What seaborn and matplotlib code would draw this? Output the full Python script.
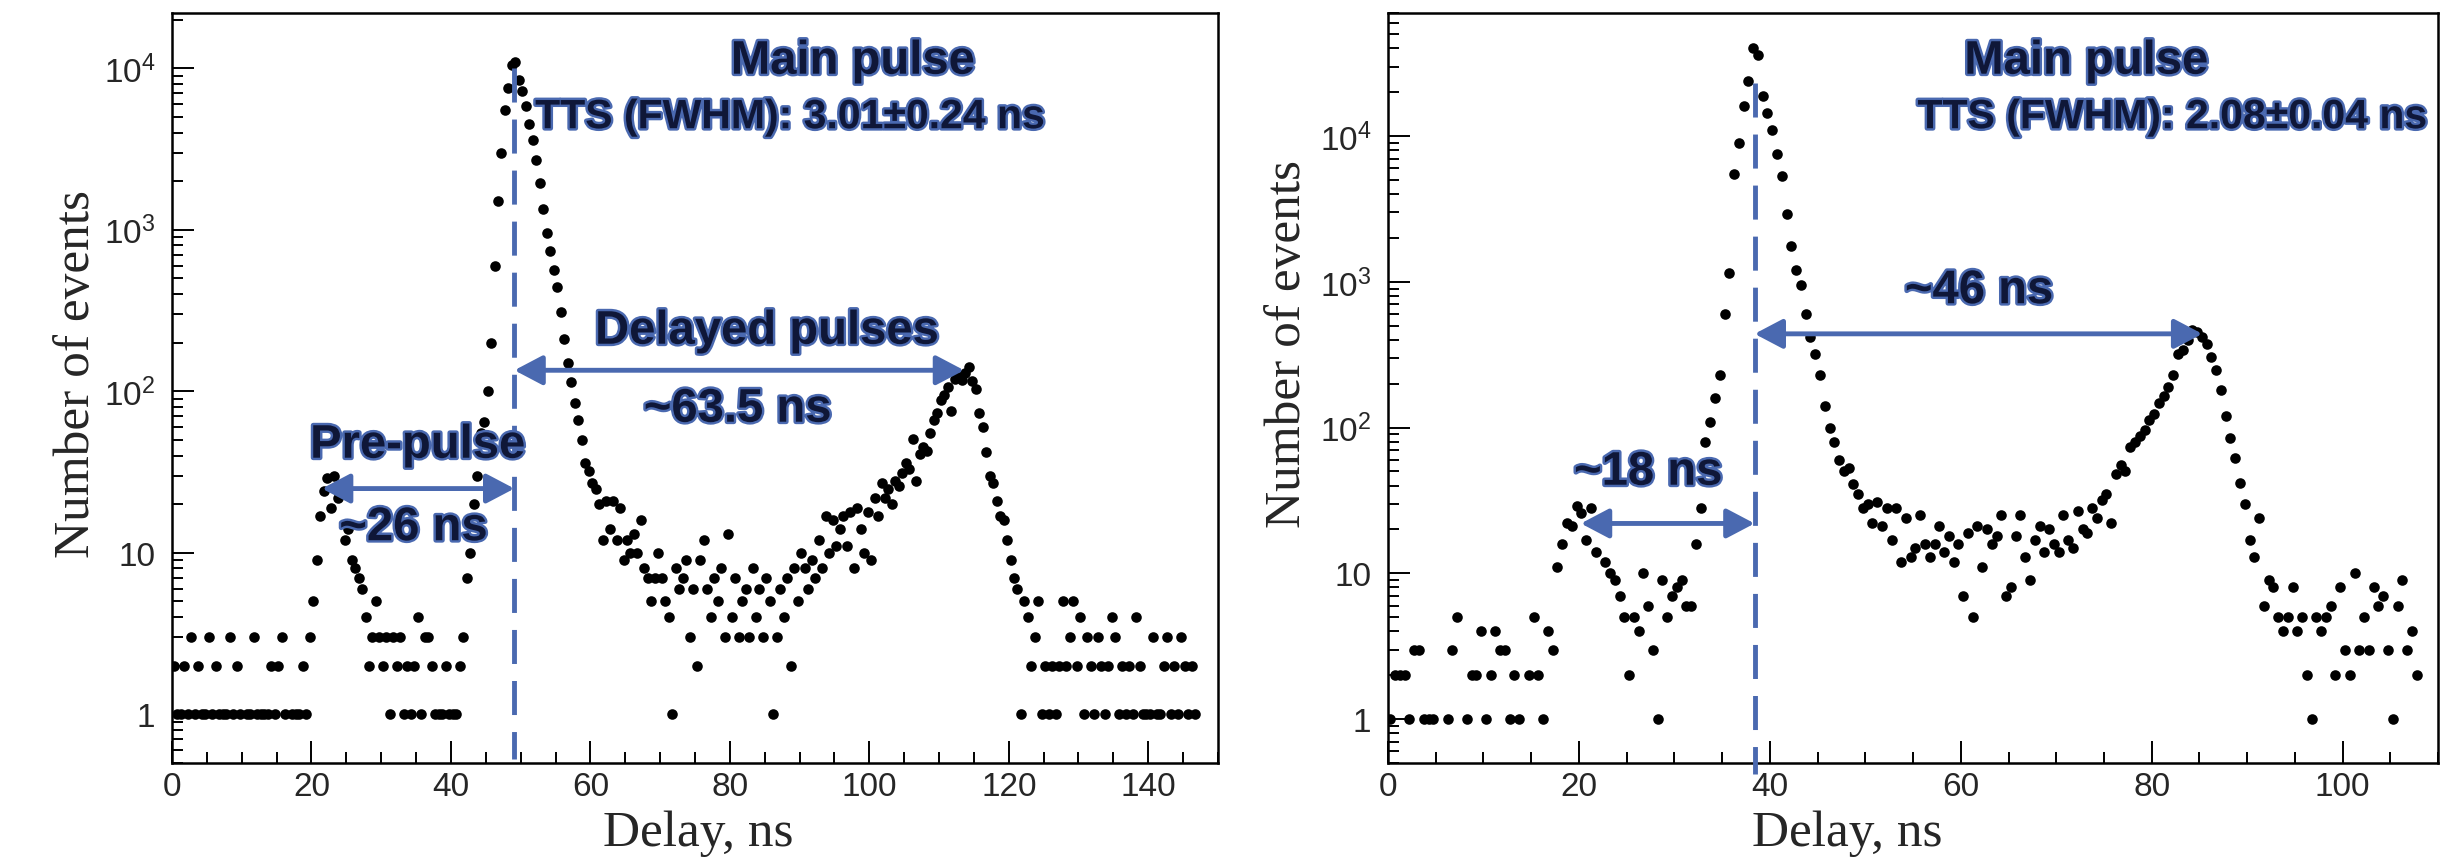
import matplotlib

matplotlib.use("Agg")
import matplotlib.patheffects as pe
import matplotlib.pyplot as plt
import numpy as np
import pandas as pd
import seaborn as sns
from matplotlib.ticker import FixedFormatter, FixedLocator, LogLocator, MultipleLocator, NullFormatter

# histogram contents, 0.5 ns per bin, starting at 0 ns
LEFT_BIN_NS = 0.5
LEFT_COUNTS = [
	2, 1, 1, 2, 1, 3, 1, 2, 1, 1,
	3, 1, 2, 1, 1, 1, 3, 1, 2, 1,
	0, 1, 1, 3, 1, 1, 1, 1, 2, 1,
	2, 3, 1, 0, 1, 1, 1, 2, 1, 3,
	5, 9, 17, 24, 29, 19, 30, 22, 24, 12,
	14, 9, 8, 7, 6, 4, 2, 3, 5, 3,
	2, 3, 1, 3, 2, 3, 1, 2, 1, 2,
	4, 1, 3, 3, 2, 1, 1, 1, 2, 1,
	1, 1, 2, 3, 7, 10, 20, 30, 55, 65,
	100, 200, 600, 1500, 3000, 5500, 7500, 10500, 11000, 8500,
	7200, 5800, 4500, 3600, 2700, 1950, 1350, 950, 740, 560,
	440, 310, 210, 150, 115, 85, 66, 50, 36, 32,
	27, 25, 20, 12, 21, 14, 21, 12, 19, 9,
	12, 10, 13, 10, 16, 8, 7, 5, 7, 10,
	7, 5, 4, 1, 8, 6, 7, 9, 3, 6,
	2, 9, 12, 6, 4, 7, 5, 8, 3, 13,
	4, 7, 3, 5, 6, 3, 8, 4, 6, 3,
	7, 5, 1, 3, 6, 4, 7, 2, 8, 5,
	10, 8, 6, 9, 7, 12, 8, 17, 10, 16,
	11, 14, 17, 11, 18, 8, 19, 14, 10, 18,
	9, 22, 17, 27, 22, 25, 20, 28, 26, 31,
	36, 33, 51, 28, 41, 45, 43, 55, 66, 73,
	88, 95, 106, 76, 119, 125, 117, 130, 141, 116,
	104, 73, 60, 42, 30, 27, 21, 17, 16, 12,
	9, 7, 6, 1, 5, 4, 2, 3, 5, 1,
	2, 1, 2, 1, 2, 5, 2, 3, 5, 2,
	4, 1, 3, 2, 1, 3, 2, 1, 2, 4,
	3, 1, 2, 1, 2, 1, 4, 2, 1, 1,
	1, 3, 1, 1, 2, 3, 1, 2, 1, 3,
	2, 1, 2, 1,
]

RIGHT_BIN_NS = 0.5
RIGHT_COUNTS = [
	1, 2, 2, 2, 1, 3, 3, 1, 1, 1,
	0, 0, 1, 3, 5, 0, 1, 2, 2, 4,
	1, 2, 4, 3, 3, 1, 2, 1, 0, 2,
	5, 2, 1, 4, 3, 11, 16, 22, 21, 29,
	26, 17, 28, 14, 22, 12, 10, 9, 7, 5,
	2, 5, 4, 10, 6, 3, 1, 9, 5, 7,
	8, 9, 6, 6, 16, 28, 80, 110, 160, 230,
	600, 1150, 5500, 9000, 16000, 24000, 40000, 36000, 19000, 14500,
	11000, 7500, 5300, 2900, 1750, 1200, 950, 600, 420, 320,
	230, 140, 100, 80, 60, 50, 53, 41, 35, 28,
	30, 22, 31, 21, 28, 17, 28, 12, 24, 13,
	15, 25, 16, 13, 16, 21, 14, 18, 12, 16,
	7, 19, 5, 21, 11, 20, 16, 18, 25, 7,
	8, 18, 25, 13, 9, 17, 21, 14, 20, 16,
	14, 25, 17, 15, 27, 20, 19, 28, 24, 32,
	35, 22, 48, 55, 50, 74, 80, 88, 96, 113,
	125, 147, 166, 190, 230, 318, 340, 400, 470, 450,
	421, 376, 303, 250, 180, 120, 85, 62, 42, 30,
	17, 13, 24, 6, 9, 8, 5, 4, 5, 8,
	4, 5, 2, 1, 5, 4, 5, 6, 2, 8,
	3, 2, 10, 3, 5, 3, 8, 6, 7, 3,
	1, 6, 9, 3, 4, 2,
]

Y_TICKS = [1, 10, 100, 1000, 10000]
Y_TICK_LABELS = ["1", "10", r"$\mathregular{10^{2}}$", r"$\mathregular{10^{3}}$", r"$\mathregular{10^{4}}$"]
LEFT_X_TICKS = [0, 20, 40, 60, 80, 100, 120, 140]
RIGHT_X_TICKS = [0, 20, 40, 60, 80, 100]

LEFT_MAIN_NS = 49.1
LEFT_DELAYED_NS = 113.6
LEFT_PRE_NS = 21.5
RIGHT_MAIN_NS = 38.4
RIGHT_DELAYED_NS = 85.3
RIGHT_PRE_NS = 20.2

BLUE = "#4a69b0"
NAVY = "#0f1738"


def label(ax, x, y, text, size=34):
	ax.text(
		x, y, text, transform=ax.transAxes, ha="center", va="center",
		fontsize=size, fontweight="bold", color=NAVY, family="Liberation Sans",
		path_effects=[pe.withStroke(linewidth=3.5, foreground=BLUE)], zorder=6,
	)


def arrow(ax, x0, x1, y):
	ax.annotate(
		"", xy=(x1, y), xytext=(x0, y),
		arrowprops=dict(
			arrowstyle="<|-|>,head_length=0.95,head_width=0.5", color=BLUE,
			lw=3.5, shrinkA=0, shrinkB=0, mutation_scale=18,
		),
		zorder=5,
	)


def draw_panel(ax, counts, bin_ns, x_max, y_max, x_ticks) -> None:
	delay = (np.arange(len(counts)) + 0.5) * bin_ns
	df = pd.DataFrame({"delay": delay, "count": counts})
	df = df[df["count"] > 0]
	sns.scatterplot(data=df, x="delay", y="count", ax=ax, color="black", s=58, linewidth=0, zorder=3)

	ax.set_yscale("log")
	ax.set_xlim(0, x_max)
	ax.set_ylim(0.5, y_max)
	ax.xaxis.set_major_locator(FixedLocator(x_ticks))
	ax.xaxis.set_minor_locator(MultipleLocator(5))
	ax.yaxis.set_major_locator(FixedLocator(Y_TICKS))
	ax.yaxis.set_major_formatter(FixedFormatter(Y_TICK_LABELS))
	ax.yaxis.set_minor_locator(LogLocator(base=10, subs=np.arange(2, 10)))
	ax.yaxis.set_minor_formatter(NullFormatter())
	ax.tick_params(which="both", direction="in", bottom=True, left=True, top=False, right=False,
		width=1.4, labelsize=24, color="black")
	ax.tick_params(which="major", length=16)
	ax.tick_params(which="minor", length=8)
	ax.tick_params(axis="x", pad=6)
	ax.tick_params(axis="y", pad=12)
	for spine in ax.spines.values():
		spine.set_visible(True)
		spine.set_linewidth(1.8)
		spine.set_color("black")

	ax.set_xlabel("Delay, ns", family="Liberation Serif", fontsize=37)
	ax.set_ylabel("Number of events", family="Liberation Serif", fontsize=37)


def main() -> None:
	sns.set_style("white")
	plt.rcParams["font.family"] = ["Liberation Sans", "DejaVu Sans"]
	plt.rcParams["mathtext.fontset"] = "custom"
	plt.rcParams["mathtext.rm"] = "Liberation Sans"

	fig = plt.figure(figsize=(24.61, 8.62), dpi=100)
	ax_l = fig.add_axes([0.0699, 0.1137, 0.4250, 0.8701])
	ax_r = fig.add_axes([0.5640, 0.1137, 0.4267, 0.8701])
	dashes = (0, (7, 3.5))

	# left: first tube
	draw_panel(ax_l, LEFT_COUNTS, LEFT_BIN_NS, 150, 2.2e4, LEFT_X_TICKS)
	ax_l.yaxis.set_label_coords(-0.069, 0.52)
	ax_l.xaxis.set_label_coords(0.503, -0.062)
	ax_l.plot([LEFT_MAIN_NS, LEFT_MAIN_NS], [10000, 0.53], color=BLUE, lw=3.5, ls=dashes, zorder=4)
	arrow(ax_l, LEFT_MAIN_NS, LEFT_DELAYED_NS, 135)
	arrow(ax_l, LEFT_PRE_NS, LEFT_MAIN_NS, 25)
	label(ax_l, 0.651, 0.935, "Main pulse")
	label(ax_l, 0.591, 0.861, "TTS (FWHM): 3.01±0.24 ns", size=29.5)
	label(ax_l, 0.569, 0.575, "Delayed pulses")
	label(ax_l, 0.541, 0.471, "~63.5 ns")
	label(ax_l, 0.235, 0.423, "Pre-pulse")
	label(ax_l, 0.231, 0.313, "~26 ns")

	# right: second tube
	draw_panel(ax_r, RIGHT_COUNTS, RIGHT_BIN_NS, 110, 7e4, RIGHT_X_TICKS)
	ax_r.yaxis.set_label_coords(-0.073, 0.56)
	ax_r.xaxis.set_label_coords(0.437, -0.062)
	ax_r.plot([RIGHT_MAIN_NS, RIGHT_MAIN_NS], [2.3e4, 0.42], color=BLUE, lw=3.5, ls=dashes,
		zorder=4, clip_on=False)
	arrow(ax_r, RIGHT_MAIN_NS, RIGHT_DELAYED_NS, 440)
	arrow(ax_r, RIGHT_PRE_NS, RIGHT_MAIN_NS, 22)
	label(ax_r, 0.665, 0.935, "Main pulse")
	label(ax_r, 0.747, 0.861, "TTS (FWHM): 2.08±0.04 ns", size=29.5)
	label(ax_r, 0.563, 0.629, "~46 ns")
	label(ax_r, 0.248, 0.387, "~18 ns")

	fig.savefig("out.png", dpi=100)
	plt.close(fig)


if __name__ == "__main__":
	main()
